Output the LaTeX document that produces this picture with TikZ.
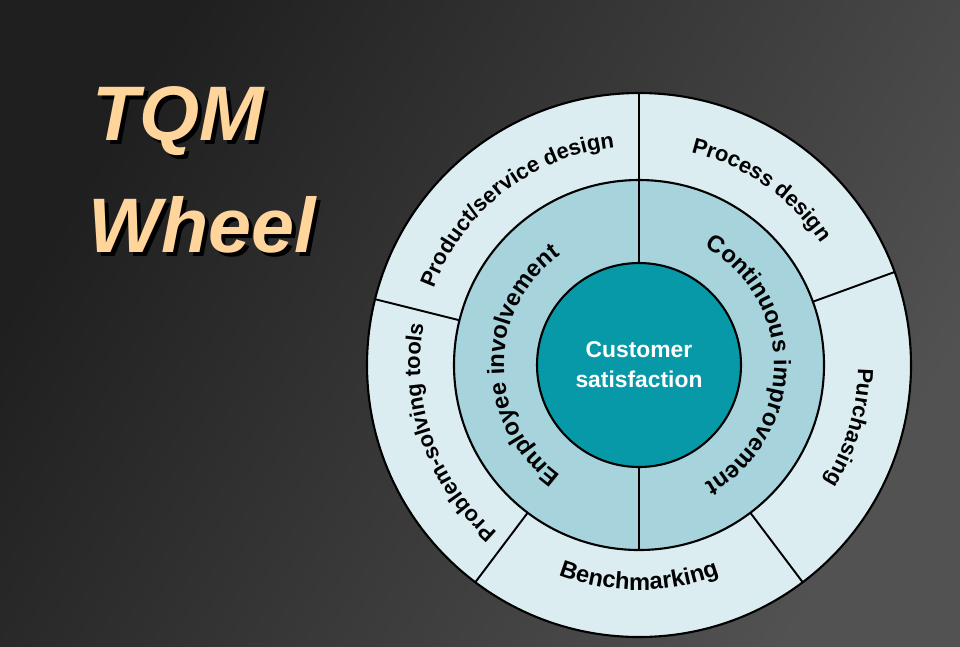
\documentclass[tikz,border=0pt]{standalone}
\usepackage{fontspec}
\setmainfont{Liberation Sans}
\setsansfont{Liberation Sans}
\usetikzlibrary{decorations.text, calc}
\definecolor{ringout}{HTML}{DCEDF2}
\definecolor{ringmid}{HTML}{A6D3DC}
\definecolor{hub}{HTML}{0899A8}
\definecolor{peach}{HTML}{FFD59C}
\tikzstyle{ring} = [draw=black, line width=1.2pt]
\tikzstyle{divider} = [draw=black, line width=1.1pt]
\tikzstyle{cwlabel} = [decorate, decoration={text along path, text align=center}]
\tikzstyle{title} = [font=\fontsize{44}{50}\selectfont\bfseries\itshape, anchor=west]

\begin{document}
\begin{tikzpicture}

%% background
\shade[left color=black!88, right color=black!68, shading angle=60]
  (0,0) rectangle (19.2,-12.92);
\useasboundingbox (0,0) rectangle (19.2,-12.92);
\coordinate (C) at (12.78,-7.30);

%% title
\node (tqmS) [title, text=black] at (1.80,-2.50) {TQM};
\node (tqm) [title, text=peach] at (1.72,-2.42) {TQM};
\node (wheelS) [title, text=black] at (1.72,-4.58) {Wheel};
\node (wheel) [title, text=peach] at (1.64,-4.50) {Wheel};

%% rings
\fill[ringout] (C) circle (5.44);
\draw[ring] (C) circle (5.44);
\fill[ringmid] (C) circle (3.70);
\draw[ring] (C) circle (3.70);
\node (hub) [circle, fill=hub, ring, minimum size=4.08cm, text=white,
  align=center, font=\fontsize{13}{17}\selectfont\bfseries]
  at (C) {Customer\\satisfaction};

%% dividers
\foreach \a in {90,20,-53,-127,166}
  \draw[divider] ($(C)+(\a:3.70)$) -- ($(C)+(\a:5.44)$);
\foreach \a in {90,270}
  \draw[divider] (hub.\a) -- ($(C)+(\a:3.70)$);

%% outer labels
\path[cwlabel, decoration={text={|\fontsize{12.5}{14}\selectfont\bfseries|Product/service design}}]
  ($(C)+(166:4.38)$) arc[start angle=166, end angle=90, radius=4.38];
\path[cwlabel, decoration={text={|\fontsize{12.5}{14}\selectfont\bfseries|Process design}}]
  ($(C)+(90:4.38)$) arc[start angle=90, end angle=20, radius=4.38];
\path[cwlabel, decoration={text={|\fontsize{12.5}{14}\selectfont\bfseries|Purchasing}}]
  ($(C)+(20:4.38)$) arc[start angle=20, end angle=-53, radius=4.38];
\path[cwlabel, decoration={text={|\fontsize{13.5}{15}\selectfont\bfseries|Benchmarking}}]
  ($(C)+(-127:4.50)$) arc[start angle=-127, end angle=-53, radius=4.50];
\path[cwlabel, decoration={text={|\fontsize{12.5}{14}\selectfont\bfseries|Problem-solving tools}}]
  ($(C)+(233:4.38)$) arc[start angle=233, end angle=166, radius=4.38];

%% middle labels
\path[cwlabel, decoration={text={|\fontsize{13.5}{15}\selectfont\bfseries|Employee involvement}}]
  ($(C)+(270:2.70)$) arc[start angle=270, end angle=90, radius=2.70];
\path[cwlabel, decoration={text={|\fontsize{13.5}{15}\selectfont\bfseries|Continuous improvement}}]
  ($(C)+(90:2.70)$) arc[start angle=90, end angle=-90, radius=2.70];

\end{tikzpicture}
\end{document}
